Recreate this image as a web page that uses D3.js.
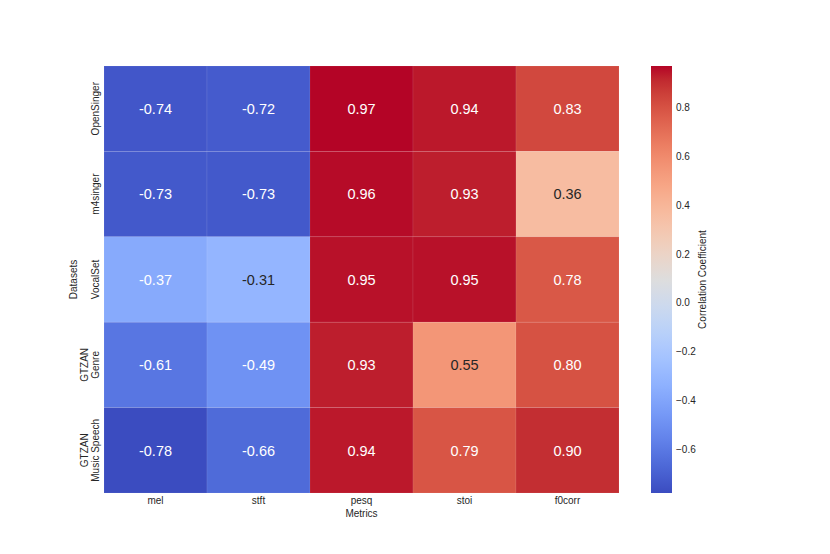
<!DOCTYPE html>
<html lang="en">
<head>
    <meta charset="UTF-8">
    <title>Correlation Heatmap</title>
    <script src="https://cdn.jsdelivr.net/npm/d3@7"></script>
    <style>
        body { margin: 0; background: #fff; }
        text { font-family: "Liberation Sans", Arial, sans-serif; }
    </style>
</head>
<body>
<div id="chart"></div>
<script>
    // data
    var datasets = [["OpenSinger"], ["m4singer"], ["VocalSet"], ["GTZAN", "Genre"], ["GTZAN", "Music Speech"]];
    var metrics = ["mel", "stft", "pesq", "stoi", "f0corr"];
    var values = [
        [-0.74, -0.72, 0.97, 0.94, 0.83],
        [-0.73, -0.73, 0.96, 0.93, 0.36],
        [-0.37, -0.31, 0.95, 0.95, 0.78],
        [-0.61, -0.49, 0.93, 0.55, 0.80],
        [-0.78, -0.66, 0.94, 0.79, 0.90]
    ];
    var colorbarTicks = [-0.6, -0.4, -0.2, 0.0, 0.2, 0.4, 0.6, 0.8];

    // matplotlib coolwarm, 33 stops
    var coolwarm = [
        [59,76,192],[68,90,204],[77,104,215],[87,117,225],[98,130,234],[108,142,241],
        [119,154,247],[130,165,251],[141,176,254],[152,185,255],[163,194,255],[174,201,253],
        [184,208,249],[194,213,244],[204,217,238],[213,219,230],[221,221,221],[229,216,209],
        [236,211,197],[241,204,184],[245,196,172],[247,187,159],[247,177,147],[247,166,134],
        [244,154,123],[241,141,111],[236,127,99],[229,112,88],[222,96,77],[213,80,66],
        [203,62,56],[192,40,47],[180,4,38]
    ].map(c => d3.rgb(c[0], c[1], c[2]).toString());

    function drawChart() {
        var interp = d3.piecewise(d3.interpolateRgb, coolwarm);
        var flat = values.flat();
        var vmin = d3.min(flat), vmax = d3.max(flat);
        var color = d3.scaleSequential(interp).domain([vmin, vmax]);

        var width = 830, height = 554;
        var plotLeft = 104, plotRight = 619, plotTop = 66, plotBottom = 493;

        var svg = d3.select("#chart").append("svg")
            .attr("width", width)
            .attr("height", height);

        var x = d3.scaleBand().domain(d3.range(metrics.length)).range([plotLeft, plotRight]);
        var y = d3.scaleBand().domain(d3.range(datasets.length)).range([plotTop, plotBottom]);

        function luminance(c) {
            var rgb = d3.rgb(c);
            var f = v => { v /= 255; return v <= 0.03928 ? v / 12.92 : Math.pow((v + 0.055) / 1.055, 2.4); };
            return 0.2126 * f(rgb.r) + 0.7152 * f(rgb.g) + 0.0722 * f(rgb.b);
        }

        var cells = [];
        values.forEach((row, i) => row.forEach((v, j) => cells.push({ i: i, j: j, v: v })));

        svg.append("g").selectAll("rect")
            .data(cells)
            .enter().append("rect")
            .attr("x", d => x(d.j))
            .attr("y", d => y(d.i))
            .attr("width", x.bandwidth())
            .attr("height", y.bandwidth())
            .attr("fill", d => color(d.v))
            .attr("stroke", "rgba(255,255,255,0.1)")
            .attr("stroke-width", 0.8);

        svg.append("g").selectAll("text")
            .data(cells)
            .enter().append("text")
            .attr("x", d => x(d.j) + x.bandwidth() / 2)
            .attr("y", d => y(d.i) + y.bandwidth() / 2)
            .attr("dy", "0.36em")
            .attr("text-anchor", "middle")
            .attr("font-size", 14.5)
            .attr("fill", d => luminance(color(d.v)) > 0.42 ? "#262626" : "#fff")
            .text(d => d.v.toFixed(2));

        // x axis
        var xAxis = svg.append("g")
            .attr("transform", `translate(0,${plotBottom})`)
            .call(d3.axisBottom(x).tickSize(0).tickPadding(4).tickFormat(i => metrics[i]));
        xAxis.select(".domain").remove();
        xAxis.selectAll("text").attr("font-size", 10).attr("fill", "#262626")
            .style("font-family", "Liberation Sans, Arial, sans-serif");

        svg.append("text")
            .attr("x", (plotLeft + plotRight) / 2)
            .attr("y", 517)
            .attr("text-anchor", "middle")
            .attr("font-size", 10)
            .attr("fill", "#262626")
            .text("Metrics");

        // y axis labels (rotated, multi-line)
        var yl = svg.append("g").selectAll("text")
            .data(datasets)
            .enter().append("text")
            .attr("transform", (d, i) => {
                var cy = y(i) + y.bandwidth() / 2;
                var cx = 99 - (d.length - 1) * 11.5;
                return `translate(${cx},${cy}) rotate(-90)`;
            })
            .attr("text-anchor", "middle")
            .attr("font-size", 10)
            .attr("fill", "#262626");
        yl.selectAll("tspan")
            .data(d => d)
            .enter().append("tspan")
            .attr("x", 0)
            .attr("dy", (d, k) => k === 0 ? 0 : "1.15em")
            .text(d => d);

        svg.append("text")
            .attr("transform", `translate(77,${(plotTop + plotBottom) / 2}) rotate(-90)`)
            .attr("text-anchor", "middle")
            .attr("font-size", 10)
            .attr("fill", "#262626")
            .text("Datasets");

        // colorbar
        var cbLeft = 651, cbWidth = 21;
        var grad = svg.append("defs").append("linearGradient")
            .attr("id", "cbgrad")
            .attr("x1", 0).attr("y1", 1).attr("x2", 0).attr("y2", 0);
        grad.selectAll("stop")
            .data(d3.range(0, 1.0001, 1 / 32))
            .enter().append("stop")
            .attr("offset", d => d)
            .attr("stop-color", d => interp(d));

        svg.append("rect")
            .attr("x", cbLeft)
            .attr("y", plotTop)
            .attr("width", cbWidth)
            .attr("height", plotBottom - plotTop)
            .attr("fill", "url(#cbgrad)");

        var cbScale = d3.scaleLinear().domain([vmin, vmax]).range([plotBottom, plotTop]);
        var cbAxis = svg.append("g")
            .attr("transform", `translate(${cbLeft + cbWidth},0)`)
            .call(d3.axisRight(cbScale).tickValues(colorbarTicks).tickSize(0).tickPadding(4)
                .tickFormat(d => d3.format(".1f")(d).replace("-", "\u2212")));
        cbAxis.select(".domain").remove();
        cbAxis.selectAll("text").attr("font-size", 10).attr("fill", "#262626")
            .style("font-family", "Liberation Sans, Arial, sans-serif");

        svg.append("text")
            .attr("transform", `translate(706,${(plotTop + plotBottom) / 2}) rotate(-90)`)
            .attr("text-anchor", "middle")
            .attr("font-size", 10)
            .attr("fill", "#262626")
            .text("Correlation Coefficient");
    }

    drawChart();
</script>
</body>
</html>
